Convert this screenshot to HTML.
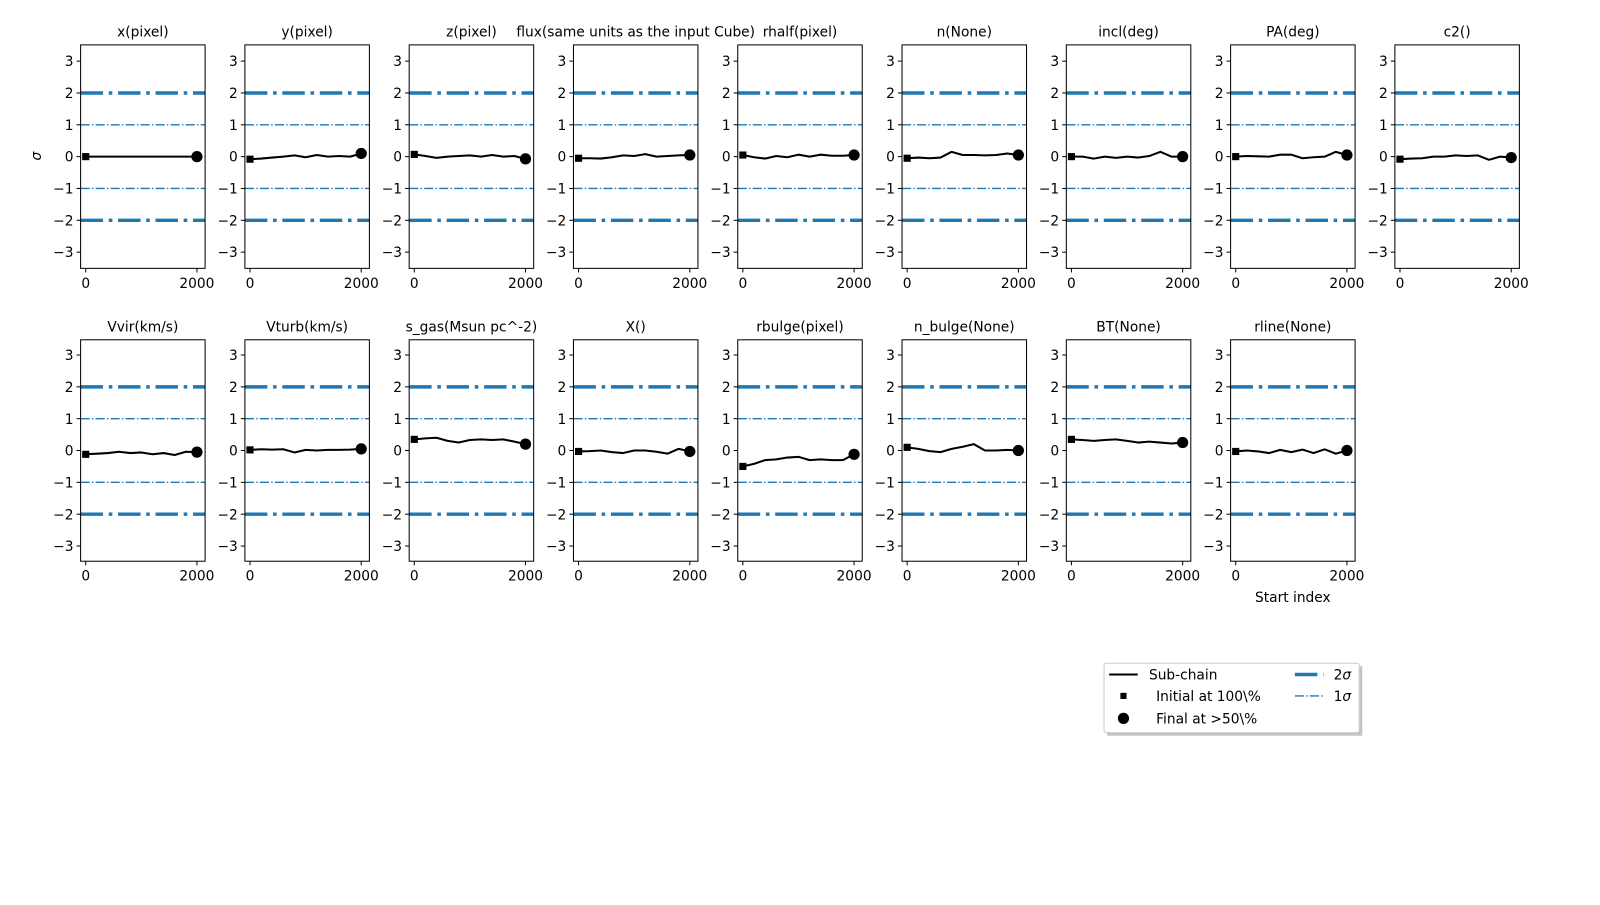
<!DOCTYPE html>
<html><head><meta charset="utf-8"><style>
body{margin:0;background:#fff}
svg text{font-family:"DejaVu Sans","Liberation Sans",sans-serif;font-size:13.5px;fill:#000}
</style></head><body>
<svg width="1600" height="900" xmlns="http://www.w3.org/2000/svg"><g id="s" transform="scale(1.0204)"></g></svg>
<script>
const S=document.getElementById('s');let h='';
const titles=[["x(pixel)","y(pixel)","z(pixel)","flux(same units as the input Cube)","rhalf(pixel)","n(None)","incl(deg)","PA(deg)","c2()"],["Vvir(km/s)","Vturb(km/s)","s_gas(Msun pc^-2)","X()","rbulge(pixel)","n_bulge(None)","BT(None)","rline(None)"]];
const data=[[
[0,0,0,0,0,0,0,0,0,0,0],
[-0.08,-0.06,-0.03,0.0,0.04,-0.02,0.05,0.0,0.02,0.0,0.1],
[0.07,0.02,-0.04,0.0,0.02,0.04,0.0,0.05,0.0,0.02,-0.07],
[-0.05,-0.05,-0.06,-0.02,0.04,0.02,0.08,0.0,0.02,0.04,0.05],
[0.05,-0.02,-0.06,0.02,-0.02,0.06,0.0,0.06,0.03,0.03,0.05],
[-0.05,-0.03,-0.05,-0.03,0.15,0.05,0.05,0.04,0.05,0.1,0.05],
[0.0,0.0,-0.06,0.0,-0.04,0.0,-0.03,0.02,0.15,0.0,0.0],
[0.0,0.02,0.01,0.0,0.06,0.06,-0.05,-0.02,0.0,0.15,0.05],
[-0.08,-0.06,-0.05,0.0,0.0,0.04,0.02,0.04,-0.1,0.0,-0.03]],[
[-0.12,-0.1,-0.08,-0.04,-0.08,-0.06,-0.12,-0.08,-0.14,-0.04,-0.05],
[0.02,0.04,0.03,0.04,-0.06,0.02,0.0,0.02,0.02,0.03,0.05],
[0.35,0.38,0.4,0.3,0.25,0.33,0.35,0.33,0.35,0.28,0.2],
[-0.03,-0.02,0.0,-0.05,-0.08,0.0,0.0,-0.04,-0.1,0.05,-0.03],
[-0.5,-0.42,-0.3,-0.28,-0.22,-0.2,-0.3,-0.28,-0.3,-0.3,-0.12],
[0.1,0.05,-0.02,-0.05,0.05,0.12,0.2,0.0,0.0,0.02,0.0],
[0.35,0.33,0.3,0.33,0.35,0.3,0.25,0.28,0.25,0.22,0.25],
[-0.03,0.0,-0.03,-0.08,0.02,-0.05,0.03,-0.08,0.04,-0.1,0.0]]];
const lefts=[79,240,401,562,723,884,1045,1206,1367];
const rows=[{top:44,bot:263,z:153.5},{top:333,bot:550,z:441.5}];
const ppu=31.2,W=122;
function X(l,v){return l+5+v*0.0545;}
rows.forEach((r,ri)=>{
 titles[ri].forEach((t,ci)=>{
  const l=lefts[ci];const Y=v=>r.z-v*ppu;
  h+=`<text x="${l+W/2}" y="${r.top-8}" text-anchor="middle">${t}</text>`;
  [2,-2].forEach(v=>h+=`<line x1="${l}" x2="${l+W}" y1="${Y(v)}" y2="${Y(v)}" stroke="#1f77b4" stroke-width="3.4" stroke-dasharray="22 5.6 3.5 5.6"/>`);
  [1,-1].forEach(v=>h+=`<line x1="${l}" x2="${l+W}" y1="${Y(v)}" y2="${Y(v)}" stroke="#1f77b4" stroke-width="1.3" stroke-dasharray="8.9 2.2 1.4 2.2"/>`);
  const d=data[ri][ci];let pts=d.map((v,i)=>`${X(l,i*200).toFixed(1)},${Y(v).toFixed(1)}`).join(' ');
  h+=`<polyline points="${pts}" fill="none" stroke="#000" stroke-width="2" stroke-linejoin="round"/>`;
  h+=`<rect x="${X(l,0)-3.5}" y="${Y(d[0])-3.5}" width="7" height="7"/>`;
  h+=`<circle cx="${X(l,2000)}" cy="${Y(d[10])}" r="5.5"/>`;
  h+=`<rect x="${l}" y="${r.top}" width="${W}" height="${r.bot-r.top}" fill="none" stroke="#000" stroke-width="1"/>`;
  for(let v=-3;v<=3;v++){const y=Y(v);h+=`<line x1="${l-4}" x2="${l}" y1="${y}" y2="${y}" stroke="#000"/><text x="${l-7}" y="${y+5}" text-anchor="end">${v<0?'\u2212'+(-v):v}</text>`;}
  [0,2000].forEach(v=>{const x=X(l,v);h+=`<line x1="${x}" x2="${x}" y1="${r.bot}" y2="${r.bot+4}" stroke="#000"/><text x="${x}" y="${r.bot+19}" text-anchor="middle">${v}</text>`;});
 });
});
h+=`<text transform="translate(40,153) rotate(-90)" text-anchor="middle" font-style="italic">σ</text>`;
h+=`<text x="1267" y="590" text-anchor="middle">Start index</text>`;
h+=`<rect x="1085" y="653" width="250" height="68" fill="#888" opacity="0.5"/>`;
h+=`<rect x="1082" y="650" width="250" height="68" fill="#fff" stroke="#ccc" rx="2"/>`;
h+=`<line x1="1087" x2="1115" y1="661" y2="661" stroke="#000" stroke-width="2"/><text x="1126" y="666">Sub-chain</text>`;
h+=`<rect x="1098" y="679" width="6" height="6"/><text x="1133" y="687">Initial at 100\\%</text>`;
h+=`<circle cx="1101" cy="704" r="5.5"/><text x="1133" y="709">Final at  &gt;50\\%</text>`;
h+=`<line x1="1269" x2="1297" y1="661" y2="661" stroke="#1f77b4" stroke-width="3.4" stroke-dasharray="22 5.6 3.5 5.6"/><text x="1307" y="666">2<tspan font-style="italic">σ</tspan></text>`;
h+=`<line x1="1269" x2="1297" y1="682" y2="682" stroke="#1f77b4" stroke-width="1.3" stroke-dasharray="8.9 2.2 1.4 2.2"/><text x="1307" y="687">1<tspan font-style="italic">σ</tspan></text>`;
S.innerHTML=h;
</script>
</body></html>
